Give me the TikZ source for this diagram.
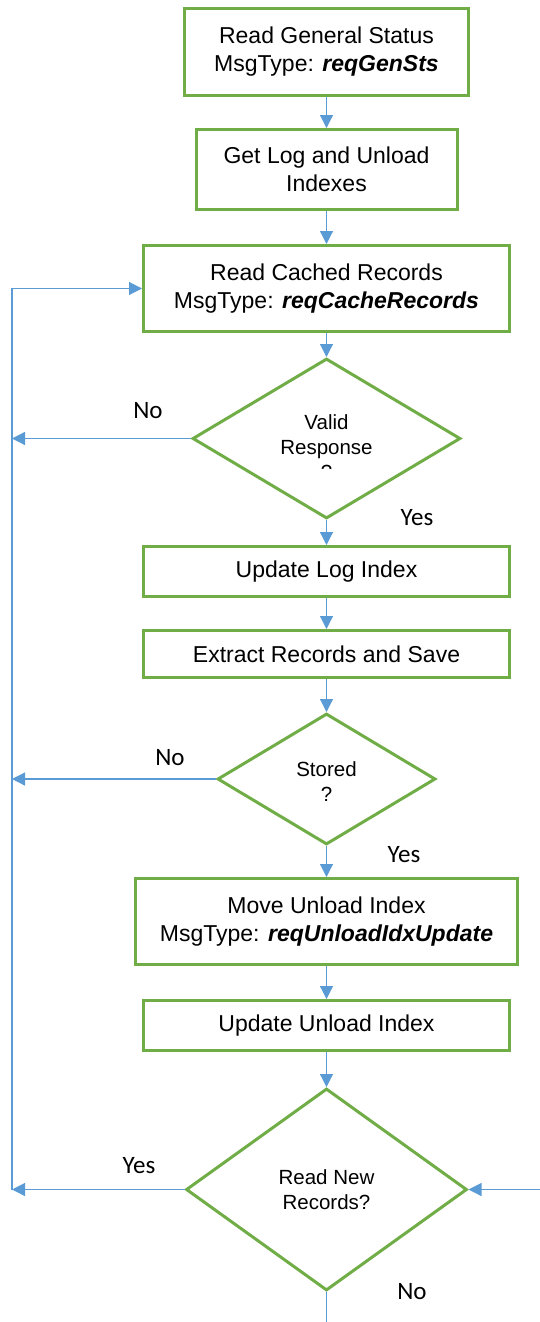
\documentclass[tikz,border=0pt]{standalone}
\usepackage{fontspec}
\setmainfont{Liberation Sans}
\newfontfamily\answerfont{Carlito}
\definecolor{flowGreen}{HTML}{70AD47}
\definecolor{flowBlue}{HTML}{5B9BD5}
\usetikzlibrary{positioning,shapes.geometric,arrows.meta}

\begin{document}
\begin{tikzpicture}[x=1pt, y=-1pt,
                node distance=31pt,
                stepbox/.style={draw=flowGreen, line width=3pt, align=center,
                                inner sep=2pt, font=\fontsize{23}{28}\selectfont},
                decision/.style={diamond, draw=flowGreen, line width=3pt,
                                 inner sep=0pt},
                asktext/.style={align=center, font=\fontsize{20.5}{25}\selectfont},
                answer/.style={anchor=base, font=\answerfont\fontsize{25}{30}\selectfont},
                arrow/.style={-{Triangle[length=13pt,width=13pt]}, line width=1.2pt, color=flowBlue},
                wire/.style={line width=1.2pt, color=flowBlue}
            ]
                \useasboundingbox (0,0) rectangle (540,1322);
                \node[stepbox, minimum width=284pt, minimum height=87pt] (b1) at (326.5,52)
                    {Read General Status\\MsgType: \textbf{\textit{reqGenSts}}};
                \node[stepbox, minimum width=261pt, minimum height=80pt, below=of b1] (b2)
                    {Get Log and Unload\\Indexes};
                \node[stepbox, minimum width=366pt, minimum height=86pt, below=33pt of b2] (b3)
                    {Read Cached Records\\MsgType: \textbf{\textit{reqCacheRecords}}};
                \node[decision, minimum width=268pt, minimum height=160pt, below=24pt of b3] (q1) {};
                \node[stepbox, minimum width=366pt, minimum height=50pt, below=25pt of q1] (b4)
                    {Update Log Index};
                \node[stepbox, minimum width=366pt, minimum height=47pt, below=of b4] (b5)
                    {Extract Records and Save};
                \node[decision, minimum width=218pt, minimum height=131pt, below=33pt of b5] (q2) {};
                \node[stepbox, minimum width=382pt, minimum height=86pt, below=of q2] (b6)
                    {Move Unload Index\\MsgType: \textbf{\textit{reqUnloadIdxUpdate}}};
                \node[stepbox, minimum width=366pt, minimum height=50pt, below=33pt of b6] (b7)
                    {Update Unload Index};
                \node[decision, minimum width=281pt, minimum height=202pt, below=35pt of b7] (q3) {};
                % question texts
                \begin{scope}
                    \clip (0,0) rectangle (540,468);
                    \node[asktext] (t1) at ([yshift=-9pt]q1.center) {Valid\\Response\\?};
                \end{scope}
                \node[asktext] (t2) at ([yshift=-3pt]q2.center) {Stored\\?};
                \node[asktext] (t3) at (q3.center) {Read New\\Records?};
                % answers
                \node[answer] (n1) at (148,418) {No};
                \node[answer] (y1) at (417,525) {Yes};
                \node[answer] (n2) at (170,765) {No};
                \node[answer] (y2) at (404,862) {Yes};
                \node[answer] (y3) at (139,1173) {Yes};
                \node[answer] (n3) at (412,1299) {No};
                % connectors
                \coordinate (rail) at (12,0);
                \coordinate (feed) at (540,0);
                \coordinate (exit) at (0,1322);
                \draw[arrow] (b1) -- (b2);
                \draw[arrow] (b2) -- (b3);
                \draw[arrow] (b3) -- (q1);
                \draw[arrow] (q1) -- (b4);
                \draw[arrow] (b4) -- (b5);
                \draw[arrow] (b5) -- (q2);
                \draw[arrow] (q2) -- (b6);
                \draw[arrow] (b6) -- (b7);
                \draw[arrow] (b7) -- (q3);
                \draw[arrow] (q1.west) -- (q1.west -| rail);
                \draw[arrow] (q2.west) -- (q2.west -| rail);
                \draw[arrow] (q3.west) -- (q3.west -| rail);
                \draw[arrow] (q3.west -| rail) |- (b3.west);
                \draw[arrow] (q3.east -| feed) -- (q3.east);
                \draw[wire] (q3.south) -- (q3.south |- exit);
            \end{tikzpicture}
\end{document}
